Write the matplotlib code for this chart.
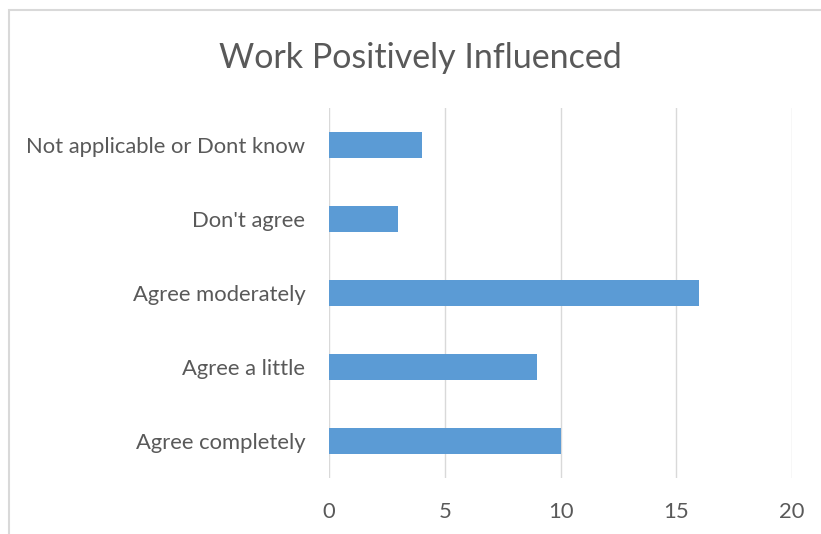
import matplotlib.pyplot as plt
from matplotlib.patches import Rectangle

categories = ['Agree completely', 'Agree a little', 'Agree moderately',
              "Don't agree", 'Not applicable or Dont know']
counts = [10, 9, 16, 3, 4]
x_ticks = [0, 5, 10, 15, 20]

text_col = '#595959'
grid_col = '#d9d9d9'
bar_col = '#5b9bd5'

plt.rcParams['font.family'] = ['Lato', 'DejaVu Sans']

fig = plt.figure(figsize=(8.21, 5.34), dpi=100)
ax = fig.add_axes([329 / 821, 1 - 478 / 534, 463 / 821, 370 / 534])

ax.barh(range(len(categories)), counts, height=0.34, color=bar_col, zorder=3)

ax.set_xlim(0, 20)
ax.set_ylim(-0.5, len(categories) - 0.5)
ax.set_xticks(x_ticks)
ax.set_yticks(range(len(categories)))
ax.set_yticklabels(categories)
ax.grid(axis='x', color=grid_col, linewidth=1.0, zorder=0)
ax.grid(axis='y', visible=False)
for s in ax.spines.values():
    s.set_visible(False)
ax.tick_params(axis='both', length=0, labelsize=15.8, colors=text_col)
ax.tick_params(axis='x', pad=17)
ax.tick_params(axis='y', pad=17)

fig.text(420 / 821, 1 - 58 / 534, 'Work Positively Influenced', ha='center', va='center',
         fontsize=24.5, color=text_col)

# outer chart border (runs off the right/bottom edge)
fig.patches.append(Rectangle((8.5 / 821, -0.1), 1.2, (534 - 10.5) / 534 + 0.1,
                             transform=fig.transFigure, fill=False,
                             edgecolor=grid_col, linewidth=1.5))

fig.savefig('out.png', dpi=100)
